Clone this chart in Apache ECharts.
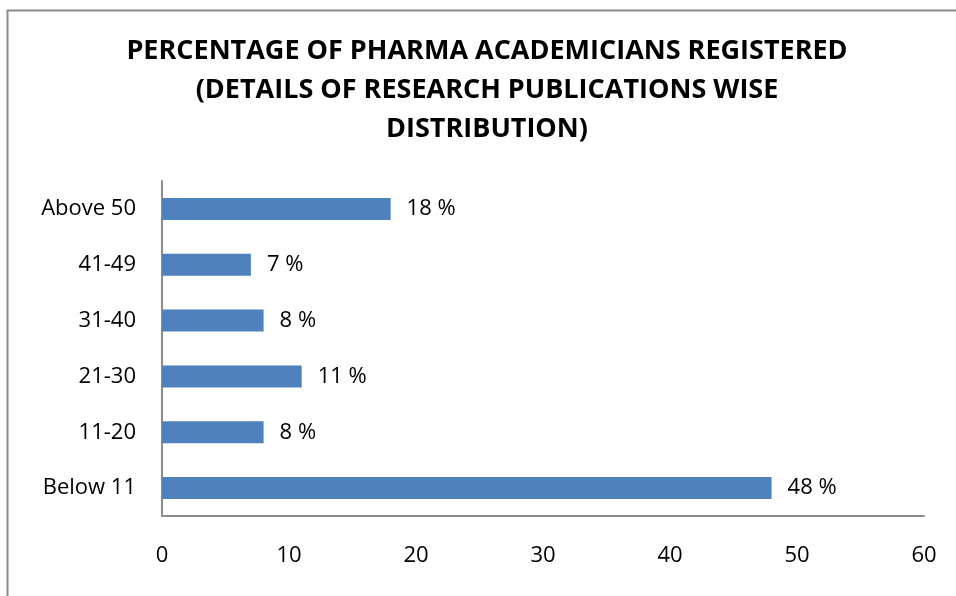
<!DOCTYPE html>
<html>
<head>
<meta charset="utf-8">
<script src="https://cdn.jsdelivr.net/npm/echarts@6/dist/echarts.min.js"></script>
<style>
  html, body { margin: 0; padding: 0; background: #fff; }
  #chart { width: 956px; height: 596px; }
</style>
</head>
<body>
<div id="chart"></div>
<script>
// publication ranges, bottom to top as drawn
const categories = ["Below 11", "11-20", "21-30", "31-40", "41-49", "Above 50"];
const percentValues = [48, 8, 11, 8, 7, 18];
const xTicks = [0, 10, 20, 30, 40, 50, 60];

const titleLines = [
    "PERCENTAGE OF PHARMA ACADEMICIANS REGISTERED",
    "(DETAILS OF RESEARCH PUBLICATIONS WISE",
    "DISTRIBUTION)",
];

const chart = echarts.init(document.getElementById("chart"));
const font = "Open Sans, Liberation Sans, sans-serif";

chart.setOption({
    animation: false,
    title: {
        text: titleLines.join("\n"),
        left: 487,
        top: 32,
        padding: 0,
        textAlign: "center",
        textStyle: {
            fontFamily: font,
            fontWeight: "bold",
            fontSize: 27,
            lineHeight: 39,
            color: "#000",
        },
    },
    graphic: [
        {
            type: "rect",
            shape: { x: 7.5, y: 10.5, width: 960, height: 600 },
            style: { fill: "none", stroke: "#8c8c8c", lineWidth: 2 },
            silent: true,
        },
    ],
    grid: { left: 162, right: 32, top: 181, bottom: 80 },
    xAxis: {
        type: "value",
        min: xTicks[0],
        max: xTicks[xTicks.length - 1],
        interval: 10,
        axisLine: { show: true, lineStyle: { color: "#8c8c8c", width: 2 } },
        axisTick: { show: false },
        splitLine: { show: false },
        axisLabel: {
            margin: 29,
            fontFamily: font,
            fontSize: 22,
            color: "#000",
        },
    },
    yAxis: {
        type: "category",
        data: categories,
        axisLine: { show: true, lineStyle: { color: "#8c8c8c", width: 2 } },
        axisTick: { show: false },
        axisLabel: {
            margin: 26,
            fontFamily: font,
            fontSize: 22,
            color: "#000",
        },
    },
    series: [
        {
            type: "bar",
            data: percentValues,
            barWidth: 22,
            itemStyle: { color: "#4F81BD" },
            label: {
                show: true,
                position: "right",
                distance: 16,
                formatter: "{c} %",
                fontFamily: font,
                fontSize: 22,
                color: "#000",
            },
        },
    ],
});
</script>
</body>
</html>
